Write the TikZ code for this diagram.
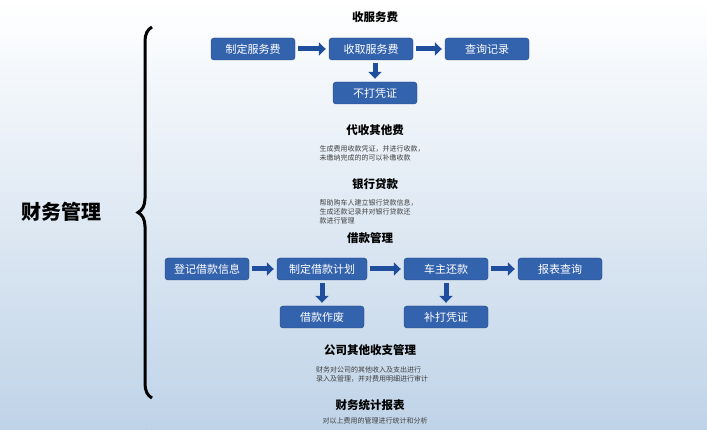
\documentclass[tikz,border=0pt]{standalone}
\usepackage{fontspec}
\newfontfamily\cjk{Noto Sans CJK SC}
\usetikzlibrary{arrows.meta,decorations.pathreplacing}
\definecolor{boxblue}{HTML}{3463AE}
\definecolor{arrowblue}{HTML}{1F4E9C}
\definecolor{skyblue}{HTML}{BFD3E8}
\begin{document}
\begin{tikzpicture}[x=1pt, y=-1pt,
    every node/.style = {font=\cjk},
    stepbox/.style = {fill=boxblue, draw=boxblue!70!black, rounded corners=3pt, text=white,
                      minimum width=84pt, minimum height=22pt, font=\cjk\fontsize{11}{12}\selectfont},
    title/.style = {font=\cjk\bfseries\fontsize{11.5}{13}\selectfont},
    note/.style = {font=\cjk\fontsize{7}{9}\selectfont, align=left, text=black!75},
    flow/.style = {draw=arrowblue, line width=5pt, -{Triangle[length=7pt,width=13pt]}, shorten >=3pt, shorten <=3pt}
  ]
  \shade[top color=white, bottom color=skyblue] (0,0) rectangle (707,430);
  \useasboundingbox (0,0) rectangle (707,430);

  % headings
  \node (service)  [title] at (375,17)  {收服务费};
  \node (collect)  [title] at (375,130) {代收其他费};
  \node (bank)     [title] at (375,184) {银行贷款};
  \node (loan)     [title] at (370,238) {借款管理};
  \node (other)    [title] at (370,350) {公司其他收支管理};
  \node (report)   [title] at (370,405) {财务统计报表};
  \node (finance)  [font=\cjk\bfseries\fontsize{20}{22}\selectfont] at (61,212) {财务管理};

  % notes
  \node (collectnote) [note] at (372,153) {生成费用收款凭证，并进行收款，\\未缴纳完成的的可以补缴收款};
  \node (banknote)    [note, anchor=north west] at (316,196) {帮助购车人建立银行贷款信息，\\生成还款记录并对银行贷款还\\款进行管理};
  \node (othernote)   [note] at (372,374) {财务对公司的其他收入及支出进行\\录入及管理，并对费用明细进行审计};
  \node (reportnote)  [note] at (375,421) {对以上费用的管理进行统计和分析};

  % service boxes
  \node (setfee)    [stepbox] at (253,49)  {制定服务费};
  \node (takefee)   [stepbox] at (371,49)  {收取服务费};
  \node (query)     [stepbox] at (487,49)  {查询记录};
  \node (noprint)   [stepbox] at (375,93)  {不打凭证};

  % loan boxes
  \node (register)  [stepbox] at (207,269) {登记借款信息};
  \node (plan)      [stepbox, minimum width=90pt] at (322,269) {制定借款计划};
  \node (repay)     [stepbox] at (446,269) {车主还款};
  \node (rptquery)  [stepbox] at (560,269) {报表查询};
  \node (cancel)    [stepbox] at (322,317) {借款作废};
  \node (reprint)   [stepbox] at (446,317) {补打凭证};

  \draw[flow] (setfee)   -- (takefee);
  \draw[flow] (takefee)  -- (query);
  \draw[flow] (takefee.south -| noprint) -- (noprint);
  \draw[flow] (register) -- (plan);
  \draw[flow] (plan)     -- (repay);
  \draw[flow] (repay)    -- (rptquery);
  \draw[flow] (plan)     -- (cancel);
  \draw[flow] (repay)    -- (reprint);

  % braces
  \draw[line width=3pt, decorate, decoration={brace, amplitude=14pt, aspect=0.5}]
    (152,398) -- (152,27);
  \draw[line width=3pt] (156,436) .. controls (146,430) .. (143,436);
\end{tikzpicture}
\end{document}
